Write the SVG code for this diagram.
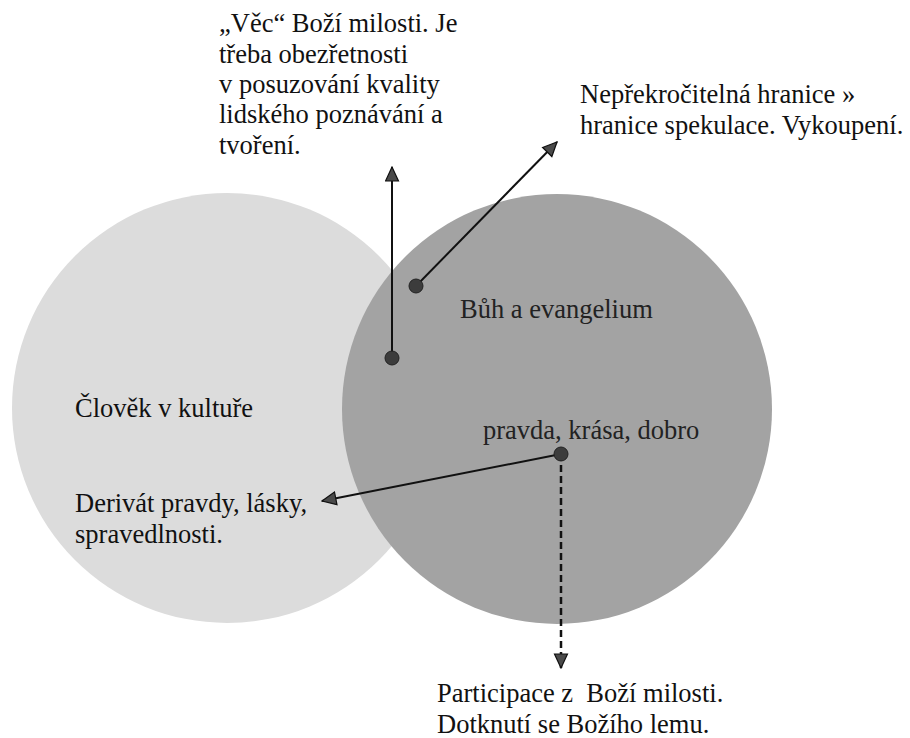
<svg xmlns="http://www.w3.org/2000/svg" width="910" height="738" viewBox="0 0 910 738">
<style>
text { font-family: 'Liberation Serif', 'DejaVu Serif', serif; font-size: 26.5px; fill: #111; white-space: pre; }
.inner { fill: #222; }
.line { stroke: #111; stroke-width: 2; fill: none; }
.dash { stroke: #111; stroke-width: 2.5; fill: none; stroke-dasharray: 7 4; }
.dot { fill: #3c3c3c; stroke: #222; stroke-width: 1; }
</style>
<defs>
<marker id="arrow" markerUnits="userSpaceOnUse" markerWidth="16" markerHeight="16" refX="15" refY="7.5" orient="auto">
<path d="M1,1 L15,7.5 L1,14 z" fill="#4a4a4a" stroke="#111" stroke-width="1.2" stroke-linejoin="miter"/>
</marker>
</defs>
<rect width="910" height="738" fill="#ffffff"/>

<g id="clovek" font-family="Liberation Serif, serif">
<circle cx="227" cy="408" r="215" fill="#dcdcdc"/>
<text x="75" y="417">Člověk v kultuře</text>
</g>

<g id="buh" font-family="Liberation Serif, serif">
<circle cx="557" cy="409" r="215" fill="#a3a3a3"/>
<text class="inner" x="460" y="318">Bůh a evangelium</text>
<text class="inner" x="483" y="439">pravda, krása, dobro</text>
</g>

<g id="vec" font-family="Liberation Serif, serif">
<text x="219" y="32">„Věc“ Boží milosti. Je</text>
<text x="219" y="63">třeba obezřetnosti</text>
<text x="219" y="93">v posuzování kvality</text>
<text x="219" y="123">lidského poznávání a</text>
<text x="219" y="154">tvoření.</text>
</g>

<g id="hranice" font-family="Liberation Serif, serif">
<text x="580" y="103">Nepřekročitelná hranice »</text>
<text x="580" y="134">hranice spekulace. Vykoupení.</text>
</g>

<g id="derivat" font-family="Liberation Serif, serif">
<text x="75" y="512">Derivát pravdy, lásky,</text>
<text x="75" y="543">spravedlnosti.</text>
</g>

<g id="participace" font-family="Liberation Serif, serif">
<text x="437" y="702">Participace z  Boží milosti.</text>
<text x="437" y="733">Dotknutí se Božího lemu.</text>
</g>

<g id="connectors">
<line class="line" x1="392" y1="358" x2="392" y2="167" marker-end="url(#arrow)"/>
<line class="line" x1="416" y1="286" x2="557" y2="142" marker-end="url(#arrow)"/>
<line class="line" x1="561" y1="454" x2="322" y2="501" marker-end="url(#arrow)"/>
<line class="dash" x1="561" y1="454" x2="561" y2="668" marker-end="url(#arrow)"/>
<circle class="dot" cx="392" cy="358" r="7"/>
<circle class="dot" cx="416" cy="286" r="7"/>
<circle class="dot" cx="561" cy="454" r="7"/>
</g>
</svg>
